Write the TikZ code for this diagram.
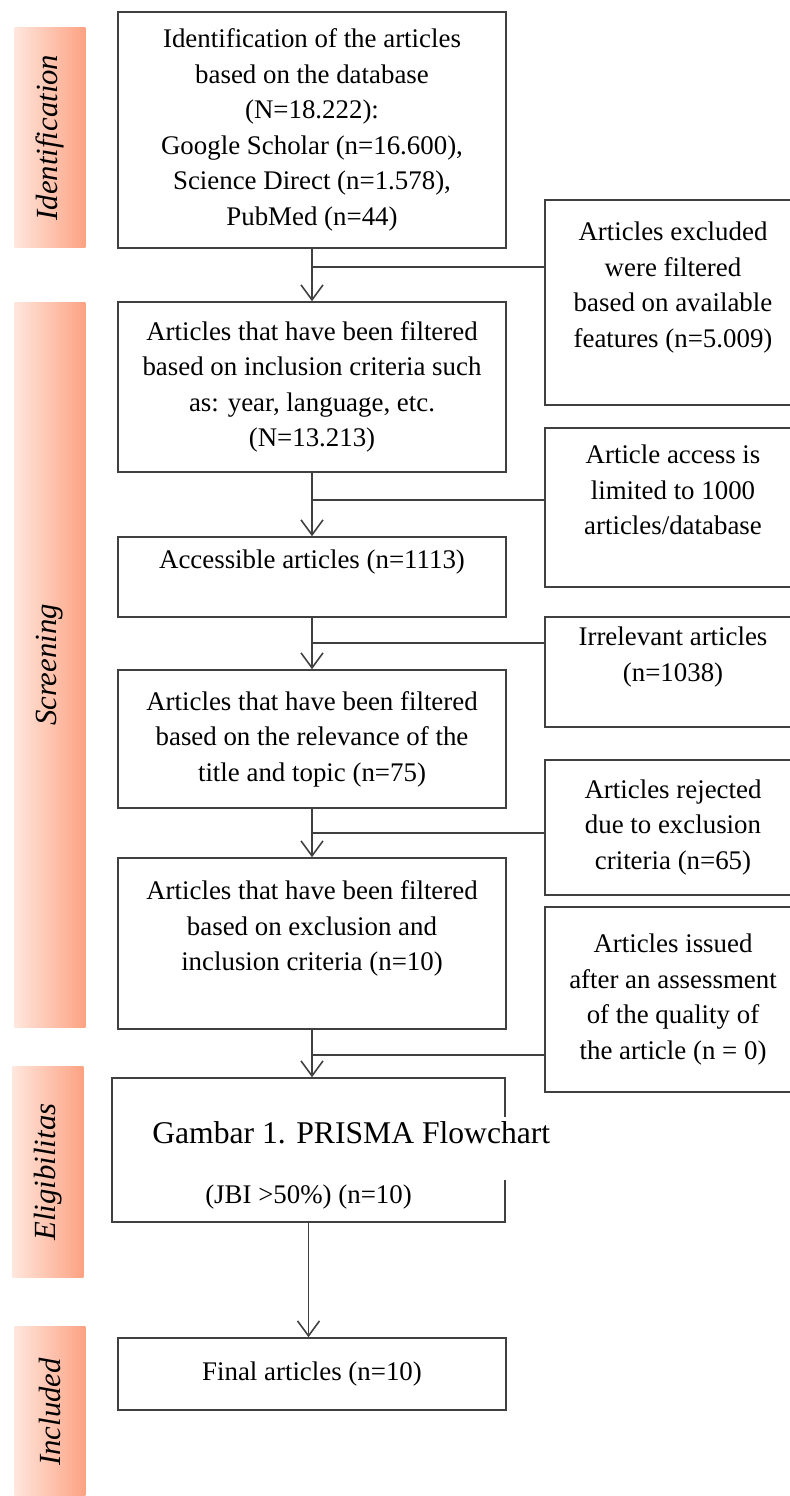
\documentclass[tikz,border=0pt]{standalone}
\usepackage{fontspec}
\setmainfont{Liberation Serif}
\usetikzlibrary{arrows.meta,positioning}
\definecolor{barlight}{HTML}{FFE6DD}
\definecolor{bardark}{HTML}{FCA282}
\tikzset{
  boxtext/.style={align=center, inner sep=0pt, font=\fontsize{15.3}{20.2}\selectfont},
  box/.style={boxtext, draw=black!75, line width=0.9pt, fill=white},
  mainbox/.style={box, minimum width=7.76cm},
  sidebox/.style={box, minimum width=5.12cm},
  phase/.style={left color=barlight, right color=bardark, minimum width=1.42cm, inner sep=0pt, font=\fontsize{17.5}{20}\selectfont\itshape},
  link/.style={draw=black!75, line width=0.9pt},
  arr/.style={link, -{Straight Barb[length=0.3cm,width=0.44cm]}},
  caption/.style={fill=white, inner xsep=0.04cm, inner ysep=0pt, text height=0.52cm, text depth=0.74cm, font=\fontsize{18}{20}\selectfont}
}
\begin{document}
\begin{tikzpicture}[x=0.02cm,y=-0.02cm]
\useasboundingbox (0,0) rectangle (789,1496);
% phase bars
\node[phase, minimum height=4.42cm] (pid) at (50,137.5) {\rotatebox{90}{Identification}};
\node[phase, minimum height=14.52cm] (pscr) at (50,665) {\rotatebox{90}{Screening}};
\node[phase, minimum height=4.24cm] (pelig) at (48,1172) {\rotatebox{90}{Eligibilitas}};
\node[phase, minimum height=3.44cm] (pincl) at (50,1412) {\rotatebox{90}{Included}};
% main column
\node[mainbox, minimum height=4.72cm] (b1) at (312,130) {Identification of the articles\\based on the database\\(N=18.222):\\Google Scholar (n=16.600),\\Science Direct (n=1.578),\\PubMed (n=44)};
\node[mainbox, minimum height=3.4cm] (b2) at (312,387) {Articles that have been filtered\\based on inclusion criteria such\\as: year, language, etc.\\(N=13.213)};
\node[mainbox, minimum height=1.6cm] (b3) at (312,577) {Accessible articles (n=1113)\\~};
\node[mainbox, minimum height=2.76cm] (b4) at (312,739) {Articles that have been filtered\\based on the relevance of the\\title and topic (n=75)};
\node[mainbox, minimum height=3.42cm] (b5) at (312,943.5) {Articles that have been filtered\\based on exclusion and\\inclusion criteria (n=10)\\~};
\node[box, minimum width=7.86cm, minimum height=2.88cm] (b6) at (308.5,1150) {};
\node[boxtext, anchor=base] (jbi) at (308.5,1203) {(JBI >50\%) (n=10)};
\node[mainbox, minimum height=1.44cm] (fin) at (312,1374) {Final articles (n=10)};
% side column
\node[sidebox, minimum height=4.1cm] (rb1) at (673,302.5) {Articles excluded\\were filtered\\based on available\\features (n=5.009)\\~};
\node[sidebox, minimum height=3.18cm] (rb2) at (673,507.5) {Article access is\\limited to 1000\\articles/database\\~};
\node[sidebox, minimum height=2.2cm] (rb3) at (673,672) {Irrelevant articles\\(n=1038)\\~};
\node[sidebox, minimum height=2.7cm] (rb4) at (673,827.5) {Articles rejected\\due to exclusion\\criteria (n=65)};
\node[sidebox, minimum height=3.7cm] (rb5) at (673,999.5) {Articles issued\\after an assessment\\of the quality of\\the article (n = 0)};
% branch points
\coordinate (j1) at (312,267);
\coordinate (j2) at (312,500);
\coordinate (j3) at (312,643);
\coordinate (j4) at (312,833);
\coordinate (j5) at (312,1055);
\draw[arr] (b1) -- (b2);
\draw[arr] (b2) -- (b3);
\draw[arr] (b3) -- (b4);
\draw[arr] (b4) -- (b5);
\draw[arr] (b5.south) -- (b5.south |- b6.north);
\draw[arr] (b6.south) -- (b6.south |- fin.north);
\draw[link] (j1) -- (j1 -| rb1.west);
\draw[link] (j2) -- (j2 -| rb2.west);
\draw[link] (j3) -- (j3 -| rb3.west);
\draw[link] (j4) -- (j4 -| rb4.west);
\draw[link] (j5) -- (j5 -| rb5.west);
% caption laid over the eligibility box
\node[caption, anchor=base west] (cap) at (150,1143) {Gambar 1. PRISMA Flowchart};
\end{tikzpicture}
\end{document}
